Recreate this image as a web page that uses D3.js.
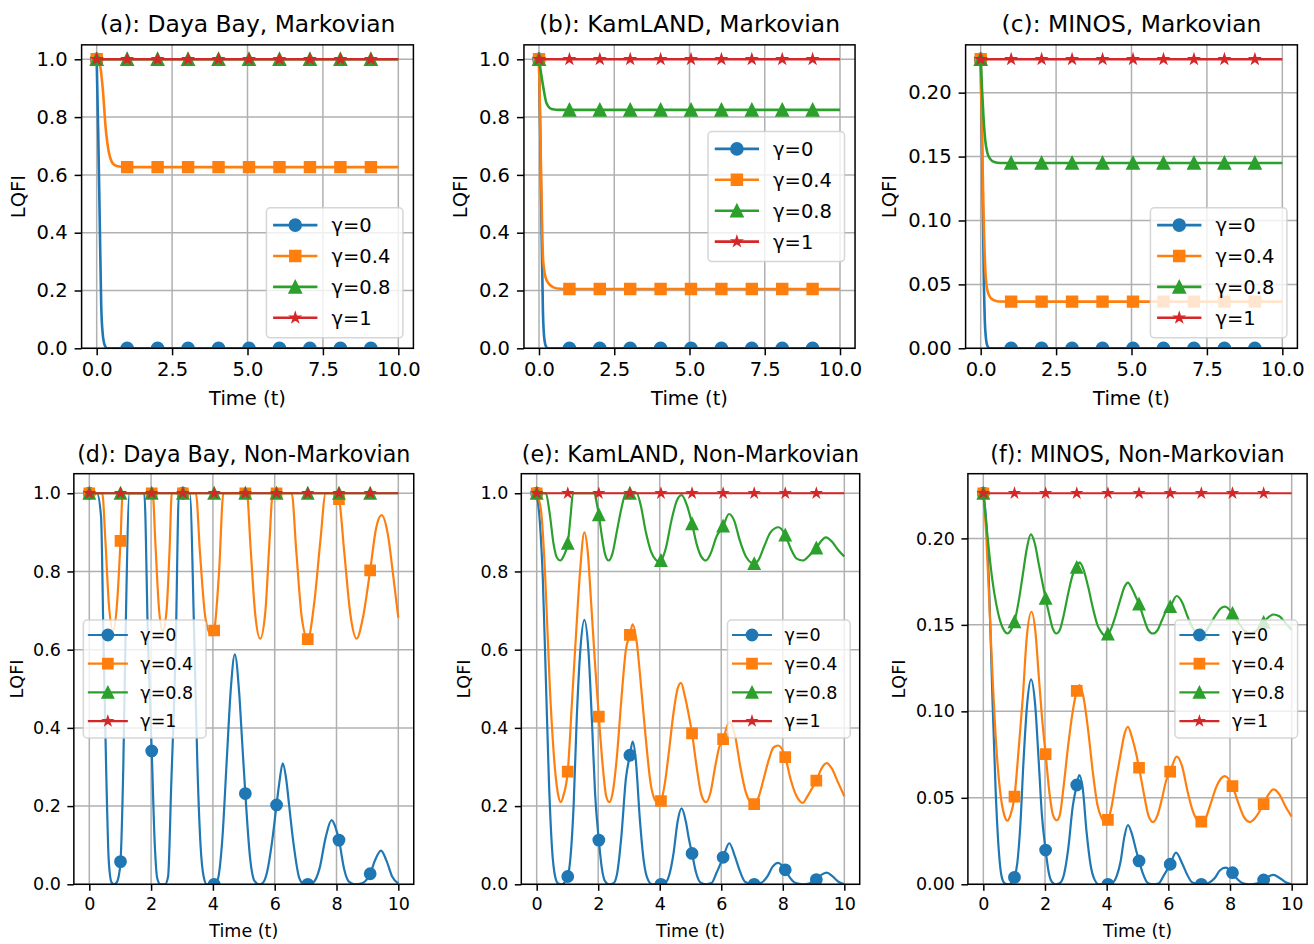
<!DOCTYPE html>
<html>
<head>
<meta charset="utf-8">
<script src="https://cdn.jsdelivr.net/npm/d3@7"></script>
<style>
  body { margin: 0; background: #fff; }
  svg { display: block; font-family: "DejaVu Sans", sans-serif; }
</style>
</head>
<body>
<svg id="chart" width="1314" height="944"></svg>
<script>
// times where markers are drawn (every 10th sample)
const markT = [0, 1.01, 2.02, 3.03, 4.04, 5.05, 6.06, 7.07, 8.08, 9.09];
const seriesLabels = ["γ=0", "γ=0.4", "γ=0.8", "γ=1"];
const xTicksMarkov = [0, 2.5, 5, 7.5, 10];
const xTicksNonMarkov = [0, 2, 4, 6, 8, 10];
const yTicksUnit = [0, 0.2, 0.4, 0.6, 0.8, 1.0];
const yTicksMinos = [0, 0.05, 0.10, 0.15, 0.20];

// flat series
const flatOne = [[0,1],[1.01,1],[2.02,1],[3.03,1],[4.04,1],[5.05,1],[6.06,1],[7.07,1],[8.08,1],[9.09,1],[10,1]];
const flatMinos = [[0,0.2261],[1.01,0.2261],[2.02,0.2261],[3.03,0.2261],[4.04,0.2261],[5.05,0.2261],[6.06,0.2261],[7.07,0.2261],[8.08,0.2261],[9.09,0.2261],[10,0.2261]];

// (a) Daya Bay, Markovian
const blueA = [[0,1],[0.05,0.75],[0.1,0.45],[0.15,0.15],[0.2,0.05],[0.27,0.01],[0.35,0],[1.01,0],[2.02,0],[3.03,0],[4.04,0],[5.05,0],[6.06,0],[7.07,0],[8.08,0],[9.09,0],[10,0]];
const orangeA = [[0,1],[0.1,0.985],[0.2,0.9],[0.3,0.76],[0.4,0.68],[0.5,0.645],[0.6,0.634],[0.75,0.629],[1.01,0.627],[2.02,0.627],[3.03,0.627],[4.04,0.627],[5.05,0.627],[6.06,0.627],[7.07,0.627],[8.08,0.627],[9.09,0.627],[10,0.627]];

// (b) KamLAND, Markovian
const blueB = [[0,1],[0.04,0.75],[0.08,0.45],[0.13,0.13],[0.18,0.03],[0.24,0.005],[0.3,0],[1.01,0],[2.02,0],[3.03,0],[4.04,0],[5.05,0],[6.06,0],[7.07,0],[8.08,0],[9.09,0],[10,0]];
const orangeB = [[0,1],[0.07,0.6],[0.14,0.3],[0.25,0.236],[0.48,0.211],[0.7,0.206],[1.01,0.205],[2.02,0.205],[3.03,0.205],[4.04,0.205],[5.05,0.205],[6.06,0.205],[7.07,0.205],[8.08,0.205],[9.09,0.205],[10,0.205]];
const greenB = [[0,1],[0.07,0.95],[0.14,0.905],[0.25,0.848],[0.42,0.828],[0.7,0.825],[1.01,0.825],[2.02,0.825],[3.03,0.825],[4.04,0.825],[5.05,0.825],[6.06,0.825],[7.07,0.825],[8.08,0.825],[9.09,0.825],[10,0.825]];

// (c) MINOS, Markovian
const blueC = [[0,0.2261],[0.05,0.15],[0.1,0.06],[0.15,0.015],[0.22,0.002],[0.3,0],[1.01,0],[2.02,0],[3.03,0],[4.04,0],[5.05,0],[6.06,0],[7.07,0],[8.08,0],[9.09,0],[10,0]];
const orangeC = [[0,0.2261],[0.05,0.16],[0.1,0.1],[0.17,0.055],[0.25,0.043],[0.4,0.038],[0.6,0.0366],[1.01,0.0365],[2.02,0.0365],[3.03,0.0365],[4.04,0.0365],[5.05,0.0365],[6.06,0.0365],[7.07,0.0365],[8.08,0.0365],[9.09,0.0365],[10,0.0365]];
const greenC = [[0,0.2261],[0.05,0.2],[0.1,0.178],[0.15,0.163],[0.22,0.153],[0.32,0.148],[0.45,0.1457],[0.65,0.145],[1.01,0.145],[2.02,0.145],[3.03,0.145],[4.04,0.145],[5.05,0.145],[6.06,0.145],[7.07,0.145],[8.08,0.145],[9.09,0.145],[10,0.145]];

// (d) Daya Bay, Non-Markovian
const blueD = [[0,1],[0.25,1],[0.38,0.94],[0.46,0.62],[0.55,0.28],[0.63,0.06],[0.72,0.005],[0.8,0],[0.88,0.004],[0.95,0.02],[1.01,0.058],[1.1,0.3],[1.17,0.62],[1.3,1],[1.78,1],[1.9,0.62],[2.02,0.341],[2.12,0.1],[2.2,0.015],[2.3,0],[2.45,0],[2.55,0.02],[2.65,0.25],[2.8,0.62],[2.9,1],[3.03,1],[3.25,1],[3.4,0.62],[3.5,0.3],[3.6,0.1],[3.7,0.02],[3.8,0],[4.04,0],[4.15,0.01],[4.3,0.11],[4.45,0.32],[4.58,0.5],[4.71,0.588],[4.85,0.49],[4.95,0.36],[5.05,0.232],[5.2,0.07],[5.35,0.008],[5.5,0],[5.62,0.004],[5.75,0.03],[5.9,0.1],[6.06,0.203],[6.15,0.26],[6.26,0.309],[6.37,0.27],[6.47,0.2],[6.6,0.11],[6.8,0.015],[6.95,0],[7.07,0],[7.25,0.005],[7.45,0.04],[7.65,0.12],[7.84,0.164],[7.97,0.145],[8.08,0.113],[8.25,0.038],[8.4,0.007],[8.6,0],[8.8,0.002],[9.09,0.027],[9.25,0.062],[9.44,0.086],[9.62,0.06],[9.8,0.02],[10,0.002]];
const orangeD = [[0,1],[0.42,1],[0.52,0.88],[0.63,0.72],[0.77,0.648],[0.9,0.72],[1.01,0.878],[1.08,1],[2.02,1],[2.05,1],[2.14,0.87],[2.26,0.7],[2.38,0.648],[2.5,0.7],[2.6,0.86],[2.67,1],[3.03,1],[3.45,1],[3.58,0.85],[3.76,0.68],[3.95,0.637],[4.04,0.649],[4.2,0.8],[4.34,1],[5.05,1],[5.1,1],[5.22,0.86],[5.37,0.69],[5.53,0.628],[5.7,0.7],[5.82,0.86],[5.94,1],[6.06,1],[6.55,1],[6.7,0.85],[6.88,0.68],[7.07,0.627],[7.28,0.72],[7.48,0.88],[7.65,1],[7.95,1],[8.08,0.985],[8.25,0.85],[8.45,0.69],[8.65,0.628],[8.85,0.68],[9.09,0.803],[9.28,0.91],[9.46,0.944],[9.65,0.9],[9.85,0.78],[10,0.682]];

// (e) KamLAND, Non-Markovian
const blueE = [[0,1],[0.1,0.93],[0.2,0.78],[0.3,0.52],[0.4,0.26],[0.5,0.09],[0.6,0.02],[0.7,0.002],[0.8,0],[0.9,0.004],[1.01,0.02],[1.1,0.07],[1.2,0.2],[1.3,0.42],[1.42,0.6],[1.55,0.676],[1.68,0.6],[1.8,0.41],[1.9,0.23],[2.02,0.113],[2.12,0.04],[2.22,0.008],[2.35,0],[2.5,0.003],[2.62,0.03],[2.75,0.12],[2.9,0.27],[3.03,0.33],[3.12,0.365],[3.22,0.32],[3.35,0.17],[3.48,0.06],[3.6,0.015],[3.75,0],[4.04,0],[4.2,0.005],[4.33,0.03],[4.45,0.08],[4.58,0.16],[4.71,0.194],[4.85,0.16],[4.95,0.115],[5.05,0.079],[5.18,0.03],[5.32,0.005],[5.5,0],[5.68,0.003],[5.85,0.03],[6.06,0.069],[6.26,0.105],[6.45,0.07],[6.6,0.035],[6.78,0.006],[7.07,0],[7.3,0.004],[7.5,0.02],[7.67,0.045],[7.85,0.055],[8.08,0.037],[8.25,0.015],[8.42,0.003],[8.65,0],[8.85,0.002],[9.09,0.012],[9.25,0.024],[9.43,0.03],[9.62,0.02],[9.82,0.006],[10,0]];
const orangeE = [[0,1],[0.15,0.95],[0.27,0.8],[0.43,0.5],[0.6,0.29],[0.7,0.228],[0.78,0.21],[0.88,0.23],[1.01,0.288],[1.15,0.47],[1.28,0.64],[1.41,0.8],[1.55,0.9],[1.66,0.85],[1.77,0.72],[1.9,0.56],[2.02,0.429],[2.15,0.3],[2.26,0.225],[2.36,0.21],[2.46,0.23],[2.6,0.32],[2.75,0.47],[2.9,0.6],[3.03,0.638],[3.12,0.665],[3.25,0.62],[3.4,0.5],[3.55,0.37],[3.7,0.26],[3.82,0.22],[3.95,0.208],[4.04,0.213],[4.15,0.25],[4.3,0.34],[4.45,0.44],[4.58,0.5],[4.69,0.515],[4.82,0.48],[4.95,0.43],[5.05,0.386],[5.2,0.3],[5.35,0.23],[5.5,0.21],[5.65,0.235],[5.8,0.3],[5.93,0.35],[6.06,0.371],[6.26,0.415],[6.45,0.38],[6.62,0.3],[6.8,0.235],[6.95,0.21],[7.07,0.205],[7.2,0.22],[7.38,0.27],[7.55,0.32],[7.7,0.35],[7.85,0.355],[8.08,0.325],[8.25,0.27],[8.45,0.225],[8.65,0.208],[8.8,0.225],[8.95,0.245],[9.09,0.265],[9.25,0.295],[9.43,0.31],[9.6,0.295],[9.8,0.26],[10,0.225]];
const greenE = [[0,1],[0.3,1],[0.42,0.95],[0.55,0.87],[0.66,0.835],[0.77,0.828],[0.88,0.84],[1.01,0.872],[1.1,0.94],[1.18,1],[1.88,1],[1.95,0.975],[2.02,0.945],[2.12,0.89],[2.22,0.845],[2.34,0.828],[2.46,0.845],[2.6,0.9],[2.75,0.96],[2.9,1],[3.03,1],[3.25,1],[3.38,0.97],[3.55,0.9],[3.72,0.85],[3.87,0.83],[3.97,0.825],[4.04,0.828],[4.2,0.86],[4.38,0.93],[4.55,0.98],[4.71,0.995],[4.88,0.97],[5.05,0.922],[5.2,0.87],[5.35,0.838],[5.5,0.828],[5.65,0.845],[5.85,0.89],[6.06,0.916],[6.25,0.947],[6.42,0.93],[6.6,0.88],[6.8,0.838],[6.98,0.822],[7.07,0.82],[7.2,0.828],[7.4,0.865],[7.6,0.9],[7.86,0.913],[8.08,0.893],[8.25,0.86],[8.45,0.833],[8.65,0.828],[8.85,0.84],[9.09,0.86],[9.25,0.878],[9.4,0.887],[9.6,0.876],[9.8,0.855],[10,0.838]];

// (f) MINOS, Non-Markovian
const blueF = [[0,0.2261],[0.1,0.208],[0.2,0.165],[0.3,0.105],[0.4,0.054],[0.5,0.02],[0.6,0.004],[0.7,0.0005],[0.82,0],[0.92,0.001],[1.01,0.004],[1.1,0.012],[1.2,0.034],[1.3,0.07],[1.42,0.104],[1.55,0.1185],[1.68,0.104],[1.8,0.07],[1.9,0.04],[2.02,0.0198],[2.12,0.007],[2.22,0.0015],[2.36,0],[2.5,0.001],[2.62,0.006],[2.75,0.02],[2.9,0.045],[3.03,0.0574],[3.11,0.0632],[3.22,0.056],[3.35,0.03],[3.48,0.011],[3.6,0.003],[3.75,0],[4.04,0],[4.2,0.001],[4.33,0.005],[4.45,0.013],[4.58,0.028],[4.69,0.0343],[4.82,0.029],[4.95,0.02],[5.05,0.0135],[5.18,0.006],[5.32,0.001],[5.5,0],[5.68,0.0005],[5.85,0.005],[6.06,0.0116],[6.25,0.0183],[6.45,0.012],[6.6,0.006],[6.78,0.001],[7.07,0],[7.3,0.0008],[7.5,0.0035],[7.67,0.008],[7.86,0.0096],[8.08,0.0067],[8.25,0.0028],[8.42,0.0006],[8.65,0],[8.85,0.0004],[9.09,0.0025],[9.25,0.0045],[9.4,0.0054],[9.62,0.0035],[9.82,0.001],[10,0]];
const orangeF = [[0,0.2261],[0.1,0.2],[0.2,0.16],[0.3,0.12],[0.42,0.08],[0.55,0.053],[0.68,0.04],[0.78,0.0368],[0.88,0.04],[1.01,0.0507],[1.15,0.079],[1.28,0.108],[1.41,0.143],[1.56,0.1576],[1.69,0.146],[1.8,0.12],[1.9,0.097],[2.02,0.0753],[2.15,0.052],[2.26,0.04],[2.38,0.037],[2.48,0.04],[2.6,0.056],[2.75,0.08],[2.9,0.1],[3.03,0.1118],[3.12,0.1152],[3.25,0.108],[3.4,0.089],[3.55,0.065],[3.7,0.046],[3.82,0.039],[3.95,0.036],[4.04,0.0372],[4.15,0.044],[4.3,0.06],[4.45,0.075],[4.58,0.087],[4.69,0.0911],[4.82,0.085],[4.95,0.076],[5.05,0.0674],[5.2,0.053],[5.35,0.04],[5.5,0.036],[5.65,0.04],[5.8,0.05],[5.93,0.06],[6.06,0.0651],[6.27,0.0738],[6.45,0.068],[6.62,0.054],[6.8,0.042],[6.95,0.037],[7.07,0.0362],[7.2,0.038],[7.38,0.047],[7.55,0.056],[7.7,0.061],[7.83,0.0626],[8.08,0.0568],[8.25,0.048],[8.45,0.039],[8.65,0.036],[8.8,0.038],[8.95,0.042],[9.09,0.0464],[9.25,0.052],[9.41,0.0549],[9.6,0.052],[9.8,0.045],[10,0.0391]];
const greenF = [[0,0.2261],[0.1,0.208],[0.2,0.19],[0.3,0.175],[0.42,0.162],[0.55,0.152],[0.68,0.1465],[0.78,0.145],[0.88,0.1465],[1.01,0.1518],[1.15,0.164],[1.28,0.179],[1.41,0.194],[1.54,0.2023],[1.67,0.197],[1.8,0.185],[1.91,0.175],[2.02,0.1653],[2.15,0.155],[2.26,0.1475],[2.37,0.145],[2.48,0.147],[2.6,0.155],[2.75,0.168],[2.9,0.179],[3.03,0.1832],[3.12,0.1861],[3.25,0.182],[3.4,0.172],[3.55,0.16],[3.7,0.15],[3.82,0.146],[3.93,0.144],[4.04,0.1447],[4.15,0.148],[4.3,0.156],[4.45,0.165],[4.58,0.172],[4.69,0.1744],[4.82,0.171],[4.95,0.166],[5.05,0.162],[5.2,0.154],[5.35,0.147],[5.5,0.145],[5.65,0.147],[5.8,0.153],[5.93,0.158],[6.06,0.1605],[6.27,0.1667],[6.45,0.163],[6.62,0.155],[6.8,0.148],[6.95,0.1453],[7.07,0.145],[7.2,0.146],[7.38,0.151],[7.55,0.156],[7.7,0.1595],[7.84,0.1605],[8.08,0.1566],[8.25,0.152],[8.45,0.147],[8.65,0.145],[8.8,0.146],[8.95,0.1485],[9.09,0.1514],[9.25,0.1545],[9.41,0.156],[9.6,0.155],[9.8,0.151],[10,0.147]];

const colors = ["#1f77b4", "#ff7f0e", "#2ca02c", "#d62728"];

// matplotlib-like marker shapes (size = ms^2)
const triUp = { draw(ctx, size) { const h = Math.sqrt(size) / 2; ctx.moveTo(0, -h); ctx.lineTo(h, h); ctx.lineTo(-h, h); ctx.closePath(); } };
const star5 = { draw(ctx, size) {
  const r = Math.sqrt(size) / 2, ri = r * 0.381966;
  for (let i = 0; i < 10; i++) {
    const a = -Math.PI / 2 + i * Math.PI / 5, rr = i % 2 ? ri : r;
    i ? ctx.lineTo(rr * Math.cos(a), rr * Math.sin(a)) : ctx.moveTo(rr * Math.cos(a), rr * Math.sin(a));
  }
  ctx.closePath();
} };
const circ = { draw(ctx, size) { const r = Math.sqrt(size) / 2; ctx.moveTo(r, 0); ctx.arc(0, 0, r, 0, 2 * Math.PI); } };
const sq = { draw(ctx, size) { const h = Math.sqrt(size) / 2; ctx.rect(-h, -h, 2 * h, 2 * h); } };
const markers = [circ, sq, triUp, star5];
const markerScale = [1, 0.9, 1, 0.75];

const rows = {
  top: { fs: 19.5, titleFs: 23.4, y0: 44.85, y1: 348.3, titleY: 31.5, tick: 7, pad: 7, labelY: 405, lw: 2.6, ms: 11.7, mew: 1.9,
         leg: { w: 136.5, h: 130, inset: 10.5, row: 30.9, first: 17.3, h0: 6.7, h1: 51, tx: 65 } },
  bottom: { fs: 17.5, titleFs: 22.2, y0: 473.7, y1: 884.3, titleY: 462.3, tick: 6.5, pad: 6.5, labelY: 937, lw: 2.2, ms: 11, mew: 1.8,
         leg: { w: 122.7, h: 118, inset: 9.5, row: 28.7, first: 15, h0: 4.5, h1: 44.5, tx: 57 } }
};

const panels = [
  { title: "(a): Daya Bay, Markovian", row: "top", x0: 81.6, x1: 413.4, series: [blueA, orangeA, flatOne, flatOne], xTicks: xTicksMarkov, xFmt: ".1f", yTicks: yTicksUnit, yFmt: ".1f", loc: "lower right" },
  { title: "(b): KamLAND, Markovian", row: "top", x0: 523.95, x1: 855.05, series: [blueB, orangeB, greenB, flatOne], xTicks: xTicksMarkov, xFmt: ".1f", yTicks: yTicksUnit, yFmt: ".1f", loc: "center right" },
  { title: "(c): MINOS, Markovian", row: "top", x0: 965.6, x1: 1297.4, series: [blueC, orangeC, greenC, flatMinos], xTicks: xTicksMarkov, xFmt: ".1f", yTicks: yTicksMinos, yFmt: ".2f", loc: "lower right" },
  { title: "(d): Daya Bay, Non-Markovian", row: "bottom", x0: 73.85, x1: 413.75, series: [blueD, orangeD, flatOne, flatOne], xTicks: xTicksNonMarkov, xFmt: "d", yTicks: yTicksUnit, yFmt: ".1f", loc: "center left" },
  { title: "(e): KamLAND, Non-Markovian", row: "bottom", x0: 521.3, x1: 859.7, series: [blueE, orangeE, greenE, flatOne], xTicks: xTicksNonMarkov, xFmt: "d", yTicks: yTicksUnit, yFmt: ".1f", loc: "center right" },
  { title: "(f): MINOS, Non-Markovian", row: "bottom", x0: 967.9, x1: 1307.1, series: [blueF, orangeF, greenF, flatMinos], xTicks: xTicksNonMarkov, xFmt: "d", yTicks: yTicksMinos, yFmt: ".2f", loc: "center right" }
];

const svg = d3.select("#chart");

panels.forEach((p, pi) => {
  const r = rows[p.row];
  const g = svg.append("g");
  const x = d3.scaleLinear().domain([-0.5, 10.5]).range([p.x0, p.x1]);
  const yMax = d3.max(p.series, s => d3.max(s, d => d[1]));
  const y = d3.scaleLinear().domain([0, yMax * 1.05]).range([r.y1, r.y0]);

  // grid
  g.append("g").selectAll("line").data(p.xTicks).join("line")
    .attr("x1", d => x(d)).attr("x2", d => x(d)).attr("y1", r.y0).attr("y2", r.y1)
    .attr("stroke", "#b0b0b0").attr("stroke-width", 1.5);
  g.append("g").selectAll("line").data(p.yTicks).join("line")
    .attr("x1", p.x0).attr("x2", p.x1).attr("y1", d => y(d)).attr("y2", d => y(d))
    .attr("stroke", "#b0b0b0").attr("stroke-width", 1.5);

  // clip
  const clipId = "clip" + pi;
  svg.append("clipPath").attr("id", clipId).append("rect")
    .attr("x", p.x0).attr("y", r.y0).attr("width", p.x1 - p.x0).attr("height", r.y1 - r.y0);

  const plot = g.append("g").attr("clip-path", `url(#${clipId})`);
  const line = d3.line().x(d => x(d[0])).y(d => y(d[1])).curve(d3.curveMonotoneX);

  p.series.forEach((s, si) => {
    plot.append("path").datum(s).attr("d", line)
      .attr("fill", "none").attr("stroke", colors[si]).attr("stroke-width", r.lw)
      .attr("stroke-linejoin", "round");
    const sym = d3.symbol().type(markers[si]).size(Math.pow(r.ms * markerScale[si], 2));
    plot.append("g").selectAll("path").data(s.filter(d => markT.includes(d[0]))).join("path")
      .attr("transform", d => `translate(${x(d[0])},${y(d[1])})`)
      .attr("d", sym)
      .attr("fill", colors[si]).attr("stroke", colors[si]).attr("stroke-width", r.mew)
      .attr("stroke-linejoin", "miter");
  });

  // spines
  g.append("rect").attr("x", p.x0).attr("y", r.y0).attr("width", p.x1 - p.x0).attr("height", r.y1 - r.y0)
    .attr("fill", "none").attr("stroke", "#000").attr("stroke-width", 1.5);

  // axes
  const xAxis = g.append("g").attr("transform", `translate(0,${r.y1})`)
    .call(d3.axisBottom(x).tickValues(p.xTicks).tickFormat(d3.format(p.xFmt)).tickSize(r.tick).tickPadding(r.pad));
  const yAxis = g.append("g").attr("transform", `translate(${p.x0},0)`)
    .call(d3.axisLeft(y).tickValues(p.yTicks).tickFormat(d3.format(p.yFmt)).tickSize(r.tick).tickPadding(r.pad));
  [xAxis, yAxis].forEach(a => {
    a.select(".domain").remove();
    a.selectAll("line").attr("stroke", "#000").attr("stroke-width", 1.5);
    a.selectAll("text").attr("fill", "#000").style("font-size", r.fs + "px").style("font-family", "DejaVu Sans");
  });

  // labels
  const cx = (p.x0 + p.x1) / 2;
  g.append("text").attr("x", cx).attr("y", r.titleY).attr("text-anchor", "middle")
    .style("font-size", r.titleFs + "px").text(p.title);
  g.append("text").attr("x", cx).attr("y", r.labelY).attr("text-anchor", "middle")
    .style("font-size", r.fs + "px").text("Time (t)");
  const yb = yAxis.node().getBBox();
  const ly = p.x0 - yb.width - 0.6 * r.fs;
  g.append("text").attr("transform", `translate(${ly},${(r.y0 + r.y1) / 2}) rotate(-90)`)
    .attr("text-anchor", "middle").style("font-size", r.fs + "px").text("LQFI");

  // legend
  const L = r.leg;
  const lx = p.loc.endsWith("left") ? p.x0 + L.inset : p.x1 - L.inset - L.w;
  const lyTop = p.loc.startsWith("lower") ? r.y1 - L.inset - L.h : (r.y0 + r.y1) / 2 - L.h / 2;
  const lg = g.append("g").attr("transform", `translate(${lx},${lyTop})`);
  lg.append("rect").attr("width", L.w).attr("height", L.h).attr("rx", 4)
    .attr("fill", "#fff").attr("fill-opacity", 0.8).attr("stroke", "#cccccc").attr("stroke-opacity", 0.8).attr("stroke-width", 1.5);
  seriesLabels.forEach((lab, si) => {
    const yy = L.first + si * L.row;
    lg.append("line").attr("x1", L.h0).attr("x2", L.h1).attr("y1", yy).attr("y2", yy)
      .attr("stroke", colors[si]).attr("stroke-width", r.lw);
    lg.append("path").attr("transform", `translate(${(L.h0 + L.h1) / 2},${yy})`)
      .attr("d", d3.symbol().type(markers[si]).size(Math.pow(r.ms * markerScale[si], 2)))
      .attr("fill", colors[si]).attr("stroke", colors[si]).attr("stroke-width", r.mew);
    lg.append("text").attr("x", L.tx).attr("y", yy).attr("dy", "0.36em")
      .style("font-size", r.fs + "px").text(lab);
  });
});
</script>
</body>
</html>
